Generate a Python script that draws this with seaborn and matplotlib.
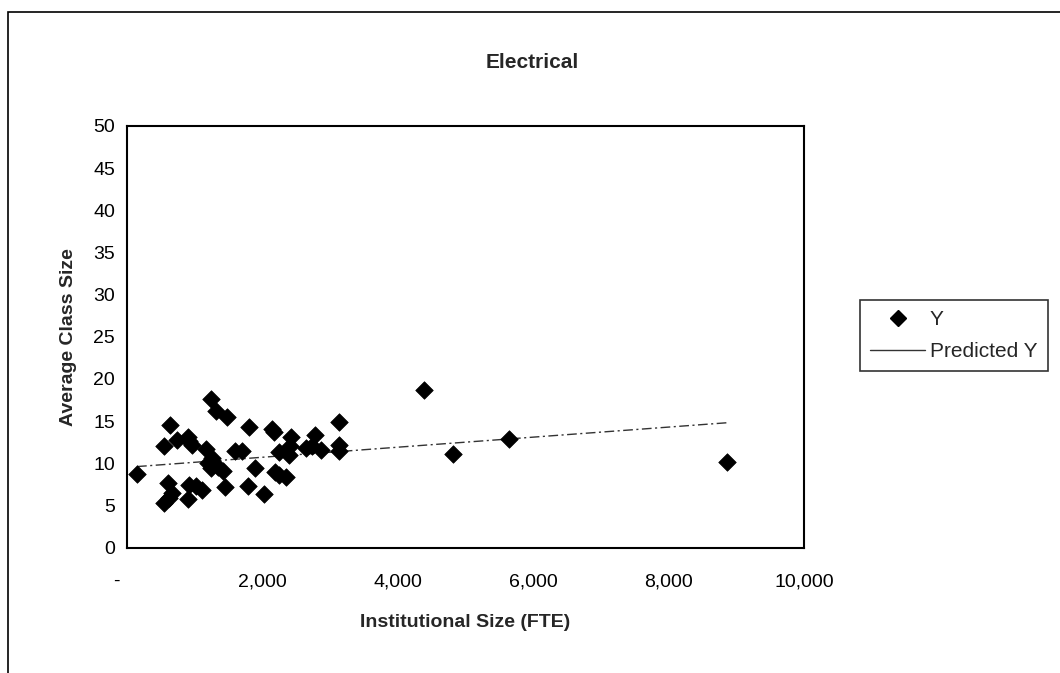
import matplotlib
matplotlib.use("Agg")
import matplotlib.pyplot as plt
from matplotlib.patches import Rectangle
from matplotlib.lines import Line2D
from matplotlib.ticker import FuncFormatter
from matplotlib.transforms import ScaledTranslation
import seaborn as sns
import pandas as pd

# ---- data ----
fte = [148, 545, 630, 735, 895, 920, 960, 600, 665, 540, 615, 895, 920, 1020, 1110,
       1170, 1245, 1310, 1470, 1195, 1245, 1345, 1420, 1260, 1445, 1595, 1695, 1795,
       1895, 1785, 2025, 2145, 2170, 2190, 2240, 2350, 2240, 2390, 2415, 2425, 2640,
       2740, 2775, 2865, 3130, 3130, 3130, 4390, 4808, 5645, 8865]
class_size = [8.7, 12.0, 14.5, 12.8, 13.1, 12.6, 12.1, 7.6, 6.5, 5.3, 5.9, 5.8, 7.4,
              7.3, 6.8, 11.7, 17.6, 16.2, 15.5, 10.0, 9.4, 9.6, 9.1, 10.6, 7.2, 11.4,
              11.5, 14.3, 9.4, 7.3, 6.3, 14.1, 13.7, 9.0, 8.6, 8.4, 11.3, 11.0, 12.0,
              13.1, 11.8, 12.0, 13.4, 11.6, 14.9, 12.2, 11.4, 18.7, 11.1, 12.9, 10.1]
pred_x = [148, 8865]
pred_y = [9.6, 14.8]

x_ticks = [0, 2000, 4000, 6000, 8000, 10000]
y_ticks = [0, 5, 10, 15, 20, 25, 30, 35, 40, 45, 50]

title = "Electrical"
x_label = "Institutional Size (FTE)"
y_label = "Average Class Size"

# ---- style ----
sns.set_style("white")
plt.rcParams['font.family'] = ['Liberation Sans', 'DejaVu Sans']

W, H = 1060, 673
fig = plt.figure(figsize=(W / 100, H / 100), dpi=100)
ax = fig.add_axes([127 / W, 1 - 547.5 / H, (804 - 127) / W, (547.5 - 126) / H])

# outer chart frame
fig.patches.append(Rectangle((8 / W, -0.1), 1.2, 1 - 12 / H + 0.1, transform=fig.transFigure,
                             fill=False, edgecolor='black', linewidth=1.2))

df = pd.DataFrame({"x": fte, "y": class_size})
dp = pd.DataFrame({"x": pred_x, "y": pred_y})

sns.lineplot(data=dp, x="x", y="y", ax=ax, color="#333333", linewidth=1.0,
             linestyle=(0, (7, 2.5, 1.5, 2.5)), zorder=2)
sns.scatterplot(data=df, x="x", y="y", ax=ax, marker="D", s=80, color="black",
                edgecolor="black", linewidth=0.5, zorder=3)

ax.set_xlim(0, 10000)
ax.set_ylim(0, 50)
ax.set_xticks(x_ticks)
ax.set_yticks(y_ticks)
ax.xaxis.set_major_formatter(FuncFormatter(lambda v, p: "-" if v == 0 else f"{int(v):,}"))
ax.tick_params(axis='both', direction='inout', length=7, width=1, labelsize=14,
               colors='black', pad=5)
ax.tick_params(axis='x', pad=15)
for s in ax.spines.values():
    s.set_color('black')
    s.set_linewidth(1.5)

fig.canvas.draw()
first = ax.get_xticklabels()[0]
first.set_transform(first.get_transform() + ScaledTranslation(-11 / 100, 0, fig.dpi_scale_trans))

ax.set_xlabel(x_label, fontsize=14, fontweight='bold', labelpad=17)
ax.set_ylabel(y_label, fontsize=14, fontweight='bold', labelpad=12)
fig.text(532 / W, 1 - 62 / H, title, ha='center', va='center', fontsize=15, fontweight='bold')

handles = [Line2D([], [], marker='D', color='black', linestyle='none', markersize=8),
           Line2D([], [], color='#333333', linewidth=1.0)]
leg = fig.legend(handles, ["Y", "Predicted Y"], loc='upper left',
                 bbox_to_anchor=(860 / W, 1 - 300 / H), fontsize=15, frameon=True,
                 fancybox=False, edgecolor='black', handlelength=2.6, borderpad=0.5,
                 labelspacing=0.6, handletextpad=0.25, borderaxespad=0)
leg.get_frame().set_linewidth(1.2)

fig.savefig("out.png", dpi=100)
